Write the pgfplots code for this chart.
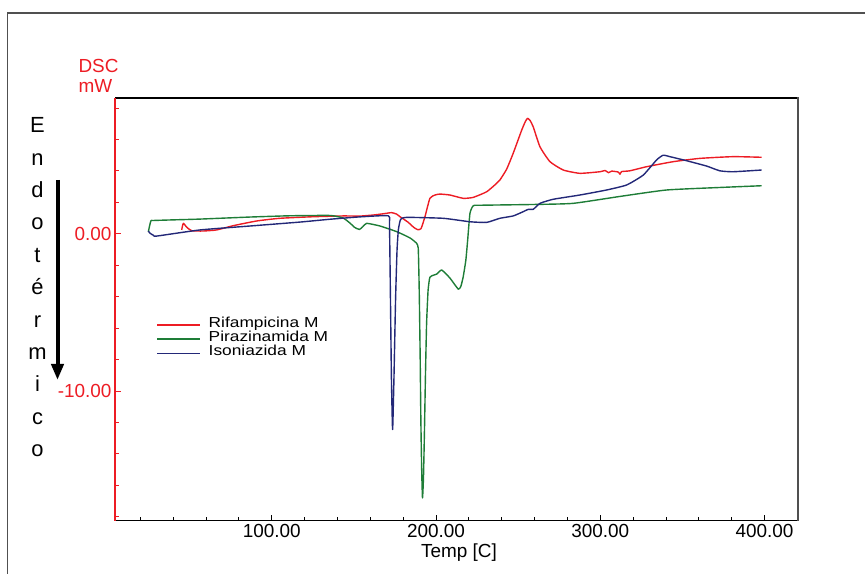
\documentclass[border=0pt]{standalone}
\usepackage{fontspec}
\setmainfont{Liberation Sans}
\usepackage{graphicx}
\usepackage{pgfplots}
\pgfplotsset{compat=1.18}
\usetikzlibrary{arrows.meta}
\definecolor{dscred}{RGB}{237,28,36}
\definecolor{dscgreen}{RGB}{30,125,55}
\definecolor{dscblue}{RGB}{35,40,120}
\definecolor{framegray}{RGB}{80,80,80}
\newcommand{\legtext}[1]{\fontsize{14.5}{14.5}\selectfont\scalebox{1.2}[1]{#1}}

\begin{document}
\begin{tikzpicture}
\path[use as bounding box] (0bp,0bp) rectangle (865bp,574bp);
% outer frame (left and top edges)
\draw[framegray, line width=1.6bp] (7.3bp,0bp) -- (7.3bp,561bp) -- (865bp,561bp);

% vertical caption with arrow
\foreach \ch [count=\i from 0] in {E,n,d,o,t,é,r,m,i,c,o} {
  \node[anchor=base, inner sep=0pt, font=\fontsize{22}{22}\selectfont] at (37.5bp,{(574-132.7-32.4*\i)*1bp}) {\ch};
}
\draw[line width=4bp, -{Triangle[width=12bp,length=16bp]}] (57.5bp,394bp) -- (57.5bp,194bp);

% unit label
\node[anchor=base, inner sep=0pt, text=dscred, font=\fontsize{19}{19}\selectfont] at (98.5bp,501bp) {DSC};
\node[anchor=base, inner sep=0pt, text=dscred, font=\fontsize{19}{19}\selectfont] at (95.5bp,481bp) {mW};

\begin{axis}[
  at={(115bp,53.3bp)}, anchor=south west,
  scale only axis, width=683bp, height=422.7bp,
  xmin=4.6, xmax=420.4, ymin=-18.25, ymax=8.63,
  clip=false,
  axis line style={draw=none},
  tick align=inside,
  xtick pos=left, ytick pos=left,
  xtick={100,200,300,400}, xticklabels={100.00,200.00,300.00,400.00},
  minor xtick={20,40,...,420},
  ytick={-10,0}, yticklabels={-10.00,0.00},
  minor ytick={-18,-16,...,8},
  major tick length=6bp, minor tick length=4bp,
  xtick style={black, line width=0.8bp},
  ytick style={dscred, line width=0.8bp},
  tick label style={font=\fontsize{19}{19}\selectfont, inner sep=0pt},
  xticklabel style={anchor=base, yshift=-16.5bp},
  yticklabel style={anchor=base east, xshift=-3.3bp, yshift=-7bp, text=dscred},
  xlabel={Temp [C]},
  xlabel style={at={(axis description cs:0.5037,-0.088)}, anchor=base, inner sep=0pt, font=\fontsize{19}{19}\selectfont},
  legend style={at={(0.0611,0.4798)}, anchor=north west, draw=none, fill=none,
    inner sep=0pt, outer sep=0pt, row sep=0pt, column sep=8bp,
    nodes={inner sep=0pt, text height=9.7bp, text depth=4.5bp}},
  legend cell align=left,
  legend image code/.code={\draw[#1] (0bp,0bp) -- (42.6bp,0bp);},
  every axis plot/.append style={line width=1.4bp, line join=round, smooth, tension=0.3},
]
% Rifampicina
\addplot[dscred] coordinates {
 (45.2,0.24) (46.2,0.66) (48.3,0.41) (51.3,0.19) (58,0.17) (66.5,0.24) (76.6,0.51)
 (90.9,0.81) (105,0.98) (125.3,1.08) (143.6,1.13) (153.7,1.12) (163,1.2) (170,1.3)
 (173,1.34) (176,1.25) (178.1,1.08) (182.9,0.74) (186.5,0.4) (188.8,0.26) (190.9,0.32)
 (193.3,1.08) (196.3,2.25) (199.4,2.46) (202.4,2.52) (208.5,2.46) (216.6,2.25)
 (222.7,2.31) (230.9,2.67) (236.9,3.20) (238.9,3.41) (243,4.1) (247,5.11) (252.2,6.59)
 (254.5,7.15) (255.8,7.34) (257.3,7.2) (259.2,6.80) (263.3,5.53) (269.4,4.58)
 (277.5,4.05) (287.6,3.84) (299.8,3.94) (303,4.02) (305,3.88) (307,3.98) (311,3.92)
 (312,3.78) (313,3.95) (318,4.0) (328.2,4.26) (344.4,4.58) (360.7,4.79) (380.9,4.90)
 (398.2,4.86)
};
\addlegendentry{\legtext{Rifampicina M}}
% Pirazinamida
\addplot[dscgreen] coordinates {
 (24.9,0.13) (26.4,0.81) (27.8,0.84) (40,0.88) (56.4,0.93) (86.8,1.06) (111.1,1.14)
 (135.5,1.16) (143.4,1.0) (147.6,0.68) (150.5,0.4) (153.4,0.27) (155.5,0.45)
 (157.8,0.66) (165.9,0.49) (176.1,0.13) (184.2,-0.27) (188.2,-0.61) (189.2,-0.91)
 (189.6,-2.5) (189.9,-4.2) (190.4,-8) (190.8,-11.85) (191.3,-15) (191.8,-16.8)
 (192.4,-15.5) (193.0,-12.5) (193.6,-9) (194.3,-5.68) (195.2,-3.6) (196.3,-2.77)
 (198.7,-2.63) (200.6,-2.56) (203.5,-2.31) (208.5,-2.82) (213.6,-3.53) (215.2,-3.33)
 (216.6,-2.73) (218.2,-1.67) (219.3,-0.40) (220.7,1.30) (222.7,1.78) (226.8,1.81)
 (260,1.86) (283.5,1.93) (312.0,2.37) (340.4,2.78) (372.8,2.94) (398.2,3.05)
};
\addlegendentry{\legtext{Pirazinamida M}}
% Isoniazida
\addplot[dscblue] coordinates {
 (24.9,0.17) (25.9,0.03) (28,-0.1) (30.0,-0.15) (56.4,0.24) (86.8,0.49) (117.2,0.74)
 (135.5,0.92) (153.7,1.07) (171.0,1.14) (171.7,0.6) (172.3,-4.2) (172.9,-9.3)
 (173.6,-12.45) (174.4,-9.3) (175.4,-4.2) (176.3,-1.04) (177.1,0.24) (178.1,0.8)
 (179.1,0.98) (183.1,1.04) (204.4,0.98) (220.7,0.76) (230.9,0.72) (238.9,0.98)
 (247.0,1.13) (253.1,1.40) (256.2,1.55) (259.2,1.55) (263.3,1.93) (271.4,2.19)
 (287.6,2.46) (303.9,2.78) (316.1,3.10) (326.2,3.73) (334.3,4.69) (338.3,4.99)
 (342.4,4.90) (352.6,4.64) (364.8,4.30) (372.8,4.00) (380.9,3.94) (398.2,4.05)
};
\addlegendentry{\legtext{Isoniazida M}}
\end{axis}

% plot frame: red value axis on the left, black elsewhere
\draw[black, line width=1.3bp] (115bp,476bp) -- (798bp,476bp);
\draw[black, line width=1.3bp] (115bp,53.3bp) -- (798bp,53.3bp);
\draw[framegray, line width=1.8bp] (798bp,476.6bp) -- (798bp,52.7bp);
\draw[dscred, line width=1.3bp] (115bp,53.3bp) -- (115bp,476bp);
\end{tikzpicture}
\end{document}
